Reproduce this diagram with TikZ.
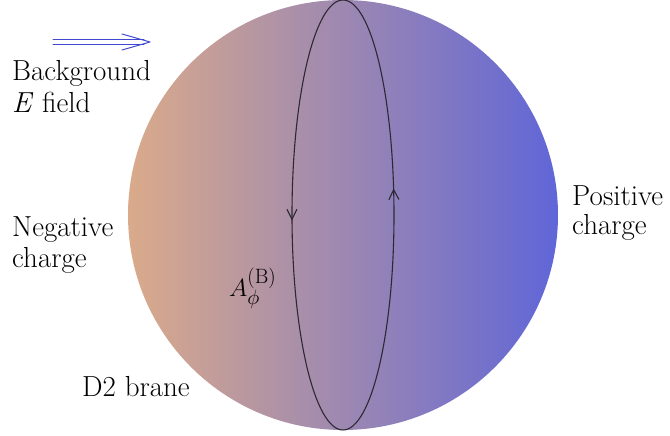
\documentclass[tikz,border=0pt]{standalone}
\usetikzlibrary{arrows.meta,decorations.markings}
\definecolor{braneleft}{RGB}{218,170,138}
\definecolor{braneright}{RGB}{96,102,216}
\definecolor{fieldblue}{RGB}{64,72,208}
\definecolor{loopgray}{RGB}{45,40,50}
\begin{document}
\begin{tikzpicture}[x=1pt,y=1pt,
  lbl/.style={anchor=base west,inner sep=0pt,font=\fontsize{29}{33}\selectfont},
  loopline/.style={draw=loopgray,line width=1.1pt},
  looptip/.style={loopgray,line width=1.1pt},
  fieldline/.style={draw=fieldblue,line width=1pt,line cap=round,line join=round}]
\useasboundingbox (0,0) rectangle (670,436);
% brane disc
\shade[left color=braneleft,right color=braneright] (343,221) circle (215);
% loop
\draw[loopline,postaction={decorate},decoration={markings,
   mark=at position 0.256 with {\arrow[looptip]{Straight Barb[length=10pt,width=10pt]}},
   mark=at position 0.779 with {\arrow[looptip]{Straight Barb[length=10pt,width=10pt]}}}]
  (343,436) arc[start angle=90,end angle=450,x radius=51,y radius=215];
% field arrow (double shaft with long open head)
\coordinate (fa) at (53,394);
\coordinate (fb) at (150,394);
\draw[fieldline] ([yshift=2.4pt]fa) -- ([xshift=-6pt,yshift=2.4pt]fb);
\draw[fieldline] ([yshift=-2.4pt]fa) -- ([xshift=-6pt,yshift=-2.4pt]fb);
\draw[fieldline] ([xshift=-28pt,yshift=8pt]fb) -- (fb) -- ([xshift=-28pt,yshift=-8pt]fb);
% labels
\node[lbl] (bg) at (12,355) {Background};
\node[lbl] (ef) at (12,323) {\textit{E} field};
\node[lbl] (neg) at (12,199) {Negative};
\node[lbl] (negc) at (12,168) {charge};
\node[lbl] (pos) at (572,230) {Positive};
\node[lbl] (posc) at (572,201) {charge};
\node[lbl] (d2) at (82,39) {D2 brane};
\node[lbl] (aphi) at (229,139) {$A_\phi^{(\mathrm{B})}$};
\end{tikzpicture}
\end{document}
